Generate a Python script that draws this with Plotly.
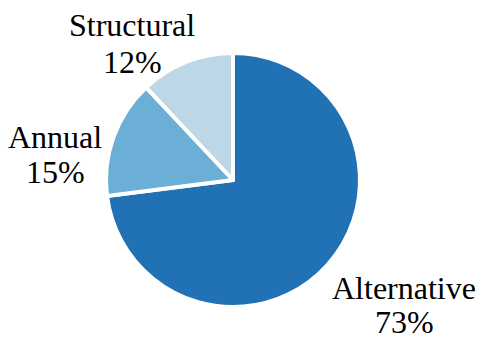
import plotly.graph_objects as go

labels = ["Alternative", "Annual", "Structural"]
values = [73, 15, 12]
colors = ["#2171b5", "#6baed6", "#bdd7e7"]

W, H = 479, 339
cx, cy, r = 233, 180, 127

# label placement (pixels): x center, line1 middle, line2 middle
label_pos = {
    "Alternative": (404, 288, 322),
    "Annual": (55, 137, 172),
    "Structural": (132, 25, 62),
}

fig = go.Figure(go.Pie(
    labels=labels,
    values=values,
    sort=False,
    direction="clockwise",
    rotation=0,
    marker=dict(colors=colors, line=dict(color="white", width=4)),
    textinfo="none",
    showlegend=False,
    hoverinfo="none",
    domain=dict(x=[(cx - r) / W, (cx + r) / W], y=[(H - cy - r) / H, (H - cy + r) / H]),
))

total = sum(values)
font = dict(family="Liberation Serif", size=32, color="black")
for lab, val in zip(labels, values):
    x, y1, y2 = label_pos[lab]
    pct = f"{round(100 * val / total)}%"
    for txt, yy in ((lab, y1), (pct, y2)):
        fig.add_annotation(
            x=x / W, y=1 - yy / H, xref="paper", yref="paper",
            text=txt, showarrow=False, font=font,
            xanchor="center", yanchor="middle", borderpad=0,
        )

fig.update_layout(
    width=W, height=H,
    margin=dict(l=0, r=0, t=0, b=0),
    paper_bgcolor="white",
    plot_bgcolor="white",
)
fig.write_html(
    "out.html",
    config={"displayModeBar": False},
    post_script="document.body.style.margin='0';document.body.style.overflow='hidden';",
)
